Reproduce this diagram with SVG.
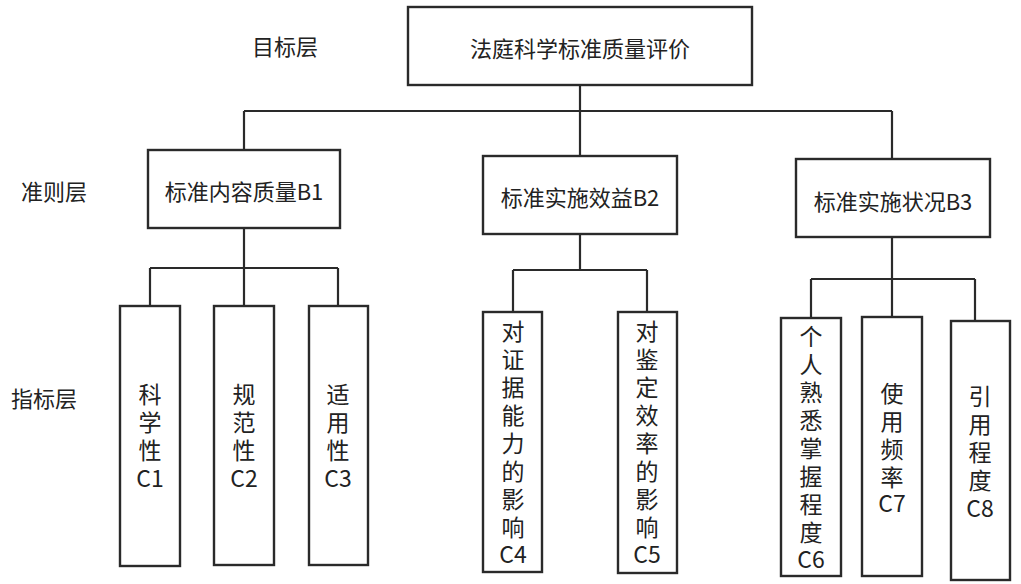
<svg xmlns="http://www.w3.org/2000/svg" width="1021" height="584" viewBox="0 0 1021 584">
<style>
.box{fill:#fff;stroke:#2a2a2a;stroke-width:2.4}
.ln{fill:none;stroke:#2a2a2a;stroke-width:2.2}
text{font-family:"Noto Sans CJK SC","Noto Sans",sans-serif;fill:#222;dominant-baseline:central;text-anchor:middle}
.t{font-size:22px}
.v{font-size:23px}
</style>
<rect width="1021" height="584" fill="#fff"/>
<g id="connectors">
<path class="ln" d="M580 85V156M244 111H892M244 111V150M892 111V159"/>
<path class="ln" d="M244 228V268M150 268H338M150 268V306M244 268V306M338 268V306"/>
<path class="ln" d="M580 234V270M513 270H647M513 270V312M647 270V312"/>
<path class="ln" d="M892 237V279M811 279H975M811 279V318M892 279V317M975 279V321"/>
</g>
<g id="labels">
<text class="t" x="285" y="45">目标层</text>
<text class="t" x="54" y="190">准则层</text>
<text class="t" x="44" y="397">指标层</text>
</g>
<g id="A"><rect class="box" x="408" y="7" width="344" height="78"/><text class="t" x="580" y="47">法庭科学标准质量评价</text></g>
<g id="B1"><rect class="box" x="148" y="150" width="192" height="78"/><text class="t" x="244" y="190">标准内容质量B1</text></g>
<g id="B2"><rect class="box" x="483" y="156" width="194" height="78"/><text class="t" x="580" y="196">标准实施效益B2</text></g>
<g id="B3"><rect class="box" x="796" y="159" width="194" height="78"/><text class="t" x="893" y="200">标准实施状况B3</text></g>
<g id="C1"><rect class="box" x="120" y="306" width="60" height="260"/>
<text class="v"><tspan x="150" y="393">科</tspan><tspan x="150" y="421">学</tspan><tspan x="150" y="449">性</tspan><tspan x="150" y="477">C1</tspan></text></g>
<g id="C2"><rect class="box" x="214" y="306" width="60" height="259"/>
<text class="v"><tspan x="244" y="393">规</tspan><tspan x="244" y="421">范</tspan><tspan x="244" y="449">性</tspan><tspan x="244" y="477">C2</tspan></text></g>
<g id="C3"><rect class="box" x="309" y="306" width="59" height="259"/>
<text class="v"><tspan x="338" y="393">适</tspan><tspan x="338" y="421">用</tspan><tspan x="338" y="449">性</tspan><tspan x="338" y="477">C3</tspan></text></g>
<g id="C4"><rect class="box" x="483" y="312" width="59" height="260"/>
<text class="v"><tspan x="513" y="330">对</tspan><tspan x="513" y="358">证</tspan><tspan x="513" y="386">据</tspan><tspan x="513" y="414">能</tspan><tspan x="513" y="442">力</tspan><tspan x="513" y="470">的</tspan><tspan x="513" y="498">影</tspan><tspan x="513" y="526">响</tspan><tspan x="513" y="553">C4</tspan></text></g>
<g id="C5"><rect class="box" x="618" y="312" width="59" height="261"/>
<text class="v"><tspan x="647" y="330">对</tspan><tspan x="647" y="358">鉴</tspan><tspan x="647" y="386">定</tspan><tspan x="647" y="414">效</tspan><tspan x="647" y="442">率</tspan><tspan x="647" y="470">的</tspan><tspan x="647" y="498">影</tspan><tspan x="647" y="526">响</tspan><tspan x="647" y="553">C5</tspan></text></g>
<g id="C6"><rect class="box" x="781" y="318" width="60" height="258"/>
<text class="v"><tspan x="811" y="335">个</tspan><tspan x="811" y="363">人</tspan><tspan x="811" y="391">熟</tspan><tspan x="811" y="419">悉</tspan><tspan x="811" y="447">掌</tspan><tspan x="811" y="475">握</tspan><tspan x="811" y="503">程</tspan><tspan x="811" y="531">度</tspan><tspan x="811" y="558">C6</tspan></text></g>
<g id="C7"><rect class="box" x="862" y="317" width="60" height="259"/>
<text class="v"><tspan x="892" y="392">使</tspan><tspan x="892" y="420">用</tspan><tspan x="892" y="448">频</tspan><tspan x="892" y="476">率</tspan><tspan x="892" y="502">C7</tspan></text></g>
<g id="C8"><rect class="box" x="951" y="321" width="59" height="259"/>
<text class="v"><tspan x="980" y="395">引</tspan><tspan x="980" y="423">用</tspan><tspan x="980" y="451">程</tspan><tspan x="980" y="479">度</tspan><tspan x="980" y="507">C8</tspan></text></g>
</svg>
